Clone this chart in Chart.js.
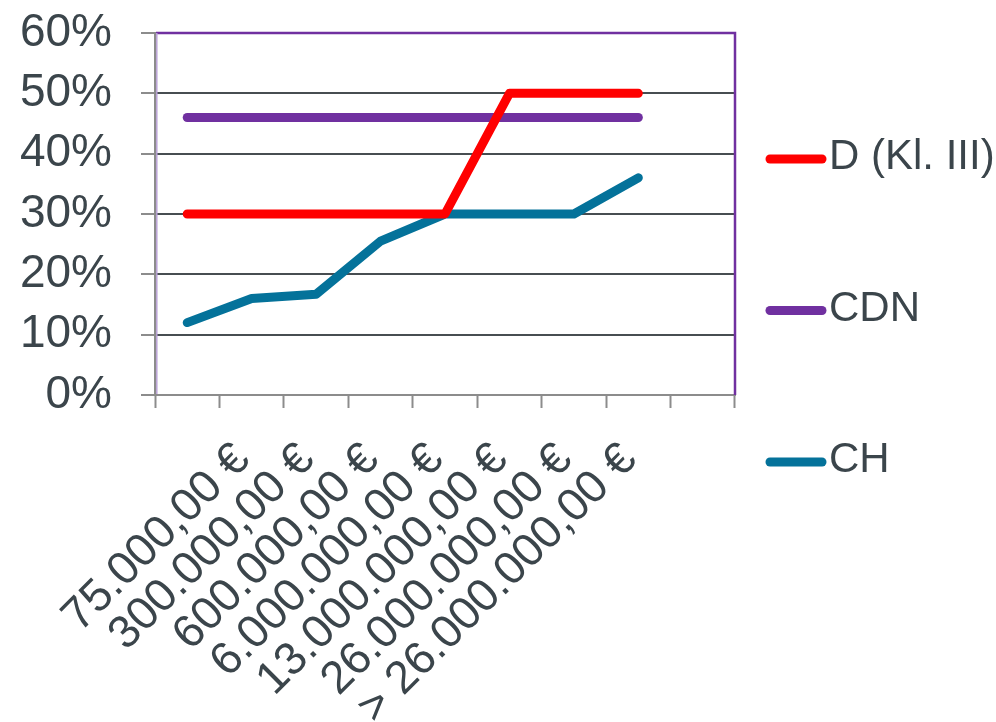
<!DOCTYPE html>
<html>
<head>
<meta charset="utf-8">
<script src="https://cdn.jsdelivr.net/npm/chart.js@4/dist/chart.umd.min.js"></script>
<style>
  html, body { margin: 0; padding: 0; background: #ffffff; }
  #wrap { width: 996px; height: 722px; position: relative; }
</style>
</head>
<body>
<div id="wrap"><canvas id="chart"></canvas></div>
<script>
// Category labels (first slot carries data but no label, last slot is empty)
const categories = ['', '75.000,00 €', '300.000,00 €', '600.000,00 €', '6.000.000,00 €',
                    '13.000.000,00 €', '26.000.000,00 €', '> 26.000.000,00 €', ''];
const seriesNames = ['D (Kl. III)', 'CDN', 'CH'];
// Rates in percent
const dValues   = [30, 30, 30, 30, 30, 50, 50, 50, null];
const cdnValues = [46, 46, 46, 46, 46, 46, 46, 46, null];
const chValues  = [12, 16, 16.7, 25.5, 30, 30, 30, 36, null];
const yMin = 0, yMax = 60, yStep = 10;

const FONT = '"Liberation Sans", Arial, Helvetica, sans-serif';
const TEXT = '#3B454B';
const AXIS = '#8C8C8C';
const GRID = '#474D51';
const FRAME = '#7030A0';

Chart.defaults.font.family = FONT;

// Purple frame around the plot area (top, right and a light inner left edge)
const plotFrame = {
  id: 'plotFrame',
  beforeDatasetsDraw(chart) {
    const { ctx, chartArea: a } = chart;
    ctx.save();
    ctx.strokeStyle = FRAME;
    ctx.lineWidth = 2.5;
    ctx.beginPath();
    ctx.moveTo(a.left + 1, a.top);
    ctx.lineTo(a.right, a.top);
    ctx.lineTo(a.right, a.bottom);
    ctx.stroke();
    ctx.strokeStyle = '#B9A2D6';
    ctx.lineWidth = 1.5;
    ctx.beginPath();
    ctx.moveTo(a.left + 1.8, a.top);
    ctx.lineTo(a.left + 1.8, a.bottom - 1);
    ctx.stroke();
    ctx.restore();
  }
};

// Legend on the right with widely spaced entries
const sideLegend = {
  id: 'sideLegend',
  afterDraw(chart, args, opts) {
    const { ctx, chartArea: a } = chart;
    ctx.save();
    ctx.font = opts.fontSize + 'px ' + FONT;
    ctx.textBaseline = 'middle';
    ctx.textAlign = 'left';
    chart.data.datasets.forEach((ds, i) => {
      const y = opts.firstY + i * opts.gap;
      const x0 = a.right + opts.lineStart;
      ctx.strokeStyle = ds.borderColor;
      ctx.lineWidth = ds.borderWidth;
      ctx.lineCap = 'round';
      ctx.beginPath();
      ctx.moveTo(x0, y);
      ctx.lineTo(x0 + opts.lineLength, y);
      ctx.stroke();
      ctx.fillStyle = opts.color;
      ctx.fillText(ds.label, x0 + opts.lineLength + opts.textGap, y - 1.5);
    });
    ctx.restore();
  }
};

function lineSeries(label, data, color) {
  return {
    label, data,
    borderColor: color,
    backgroundColor: color,
    borderWidth: 9,
    borderCapStyle: 'round',
    borderJoinStyle: 'round',
    pointRadius: 0,
    pointHoverRadius: 0,
    fill: false,
    tension: 0
  };
}

new Chart(document.getElementById('chart'), {
  type: 'line',
  data: {
    labels: categories,
    datasets: [
      lineSeries(seriesNames[0], dValues, '#FF0000'),
      lineSeries(seriesNames[1], cdnValues, '#7030A0'),
      lineSeries(seriesNames[2], chValues, '#04729A')
    ]
  },
  options: {
    responsive: true,
    maintainAspectRatio: false,
    animation: false,
    devicePixelRatio: 1,
    layout: { padding: { top: 33, right: 261, bottom: 0, left: 0 } },
    plugins: {
      legend: { display: false },
      tooltip: { enabled: false },
      sideLegend: { firstY: 159, gap: 151.5, lineStart: 35, lineLength: 52, textGap: 7, fontSize: 42, color: TEXT }
    },
    scales: {
      x: {
        offset: true,
        grid: {
          offset: true,
          drawOnChartArea: false,
          drawTicks: true,
          tickLength: 13,
          tickWidth: 2,
          tickColor: AXIS,
          color: AXIS
        },
        border: { display: true, color: AXIS, width: 2 },
        ticks: {
          autoSkip: false,
          minRotation: 45,
          maxRotation: 45,
          color: TEXT,
          font: { size: 46 },
          padding: 25,
          labelOffset: -9
        },
        afterFit(scale) { scale.height = 327; }
      },
      y: {
        min: yMin,
        max: yMax,
        ticks: {
          stepSize: yStep,
          autoSkip: false,
          callback: v => v + '%',
          color: TEXT,
          // small line height keeps the label overhang from pushing the plot down
          font: { size: 46, lineHeight: 0.1 },
          padding: 29
        },
        grid: {
          color: c => (c.tick && (c.tick.value === yMin || c.tick.value === yMax)) ? 'rgba(0,0,0,0)' : GRID,
          lineWidth: 2,
          tickColor: AXIS,
          tickWidth: 2,
          tickLength: 14
        },
        border: { display: true, color: AXIS, width: 2 },
        afterFit(scale) { scale.width = 155; }
      }
    }
  },
  plugins: [plotFrame, sideLegend]
});
</script>
</body>
</html>
